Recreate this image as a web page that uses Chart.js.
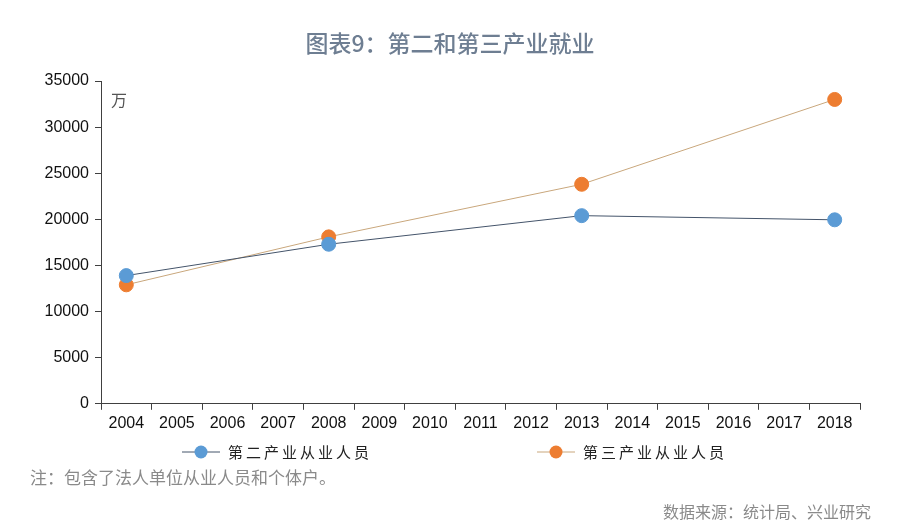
<html>
<head>
<meta charset="utf-8">
<script src="https://cdn.jsdelivr.net/npm/chart.js"></script>
<style>
  body { margin: 0; background: #fff; }
  .wrap { position: relative; width: 900px; height: 530px; }
</style>
</head>
<body>
<div class="wrap">
  <canvas id="chart-1" width="900" height="530"></canvas>
</div>
<script>
  // categories and series (万人)
  const years = ['2004','2005','2006','2007','2008','2009','2010','2011','2012','2013','2014','2015','2016','2017','2018'];
  const secondary = [13900, null, null, null, 17300, null, null, null, null, 20400, null, null, null, null, 19950];
  const tertiary  = [12900, null, null, null, 18100, null, null, null, null, 23800, null, null, null, null, 33000];
  const yTicks = [0, 5000, 10000, 15000, 20000, 25000, 30000, 35000];

  const titleText = '图表9：第二和第三产业就业';
  const unitText = '万';
  const noteText = '注：包含了法人单位从业人员和个体户。';
  const sourceText = '数据来源：统计局、兴业研究';
  const cjk = '"Noto Sans CJK SC", "Noto Sans", sans-serif';

  // extra texts + line/marker legend
  const decorations = {
    id: 'decorations',
    afterDraw(chart) {
      const ctx = chart.ctx;
      const area = chart.chartArea;
      ctx.save();
      ctx.textBaseline = 'middle';

      ctx.fillStyle = '#6e7e92';
      ctx.font = '500 23px ' + cjk;
      ctx.textAlign = 'center';
      ctx.fillText(titleText, 450, 43);

      ctx.fillStyle = '#555';
      ctx.font = '16px ' + cjk;
      ctx.textAlign = 'left';
      ctx.fillText(unitText, area.left + 10, 100);

      // legend
      const legendX = [182, 537];
      chart.data.datasets.forEach((ds, i) => {
        const x = legendX[i], y = 452;
        ctx.strokeStyle = ds.borderColor;
        ctx.lineWidth = 1;
        ctx.beginPath();
        ctx.moveTo(x, y);
        ctx.lineTo(x + 38, y);
        ctx.stroke();
        ctx.fillStyle = ds.pointBackgroundColor;
        ctx.beginPath();
        ctx.arc(x + 19, y, 6.5, 0, Math.PI * 2);
        ctx.fill();
        ctx.fillStyle = '#222';
        ctx.font = '15px ' + cjk;
        ctx.letterSpacing = '3px';
        ctx.fillText(ds.label, x + 46, y);
        ctx.letterSpacing = '0px';
      });

      ctx.fillStyle = '#8a8a8a';
      ctx.font = '17px ' + cjk;
      ctx.textAlign = 'left';
      ctx.fillText(noteText, 30, 478);

      ctx.font = '16px ' + cjk;
      ctx.textAlign = 'right';
      ctx.fillText(sourceText, 871, 512);
      ctx.restore();
    }
  };

  const config = {
    type: 'line',
    data: {
      labels: years,
      datasets: [
        {
          label: '第二产业从业人员',
          data: secondary,
          borderColor: '#44546a',
          borderWidth: 1,
          pointBackgroundColor: '#5b9bd5',
          pointBorderColor: '#5b9bd5',
          pointRadius: 7,
          spanGaps: true
        },
        {
          label: '第三产业从业人员',
          data: tertiary,
          borderColor: '#c9a77c',
          borderWidth: 1,
          pointBackgroundColor: '#ed7d31',
          pointBorderColor: '#ed7d31',
          pointRadius: 7,
          spanGaps: true
        }
      ]
    },
    options: {
      responsive: false,
      animation: false,
      layout: { padding: { top: 81, right: 40, bottom: 93, left: 40 } },
      plugins: {
        legend: { display: false },
        tooltip: { enabled: false }
      },
      scales: {
        x: {
          offset: true,
          grid: { display: true, offset: true, drawOnChartArea: false, drawTicks: true, tickLength: 6, color: '#404040' },
          border: { color: '#404040' },
          ticks: { color: '#111', font: { family: 'Liberation Sans', size: 16 }, padding: 4, maxRotation: 0, autoSkip: false }
        },
        y: {
          min: 0,
          max: 35000,
          afterBuildTicks: axis => { axis.ticks = yTicks.map(v => ({ value: v })); },
          afterFit: axis => { axis.width = 61; },
          grid: { display: true, drawOnChartArea: false, drawTicks: true, tickLength: 6, color: '#404040' },
          border: { color: '#404040' },
          ticks: { color: '#111', font: { family: 'Liberation Sans', size: 16 }, padding: 6, callback: v => String(v) }
        }
      }
    },
    plugins: [decorations]
  };

  const chart = new Chart(document.getElementById('chart-1'), config);
</script>
</body>
</html>
